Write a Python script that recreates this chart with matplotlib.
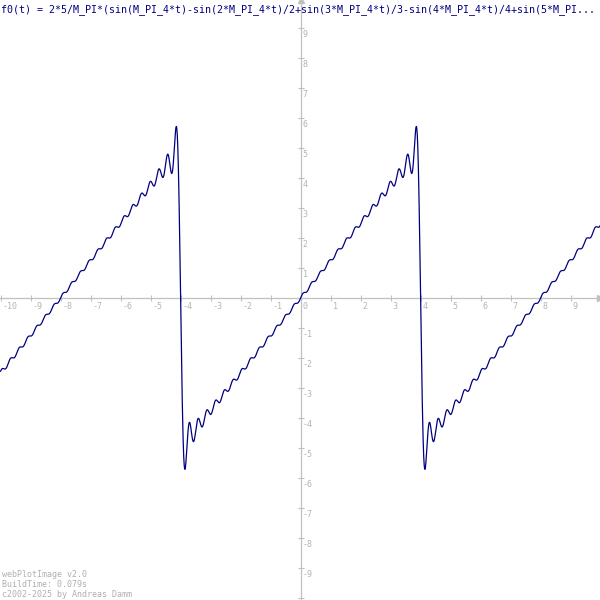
import numpy as np
import matplotlib
matplotlib.use("Agg")
import matplotlib.pyplot as plt

# ---- chart content ----
title = ("f0(t) = 2*5/M_PI*(sin(M_PI_4*t)-sin(2*M_PI_4*t)/2+sin(3*M_PI_4*t)/3"
         "-sin(4*M_PI_4*t)/4+sin(5*M_PI...")
footer_lines = ["webPlotImage v2.0", "BuildTime: 0.079s", "c2002-2025 by Andreas Damm"]

amplitude = 5          # the "5" in 2*5/M_PI
n_terms = 27           # number of harmonics in the partial sum
base_freq = np.pi / 4  # M_PI_4
t_min, t_max = -10, 10

x_tick_values = [-10, -9, -8, -7, -6, -5, -4, -3, -2, -1, 0, 1, 2, 3, 4, 5, 6, 7, 8, 9]
y_tick_values = [-10, -9, -8, -7, -6, -5, -4, -3, -2, -1, 1, 2, 3, 4, 5, 6, 7, 8, 9]
y_tick_labels = ["", "-9", "-8", "-7", "-6", "-5", "-4", "-3", "-2", "-1",
                 "1", "2", "3", "4", "5", "6", "7", "8", "9"]
x_tick_labels = [str(v) for v in x_tick_values]

# ---- function from the title (Fourier partial sum) ----
t = np.linspace(t_min, t_max, 6001)
k = np.arange(1, n_terms + 1)
signs = np.where(k % 2 == 1, 1.0, -1.0)
f0 = 2 * amplitude / np.pi * np.sum(signs[:, None] * np.sin(k[:, None] * base_freq * t[None, :]) / k[:, None], axis=0)

# ---- figure ----
mono = "DejaVu Sans Mono"
axis_gray = "#c0c0c0"
label_gray = "#b4b4b4"
curve_color = "#000080"

fig = plt.figure(figsize=(6, 6), dpi=100)
ax = fig.add_axes([0, 0, 1, 1])
ax.set_xlim(-10.02, 9.98)
ax.set_ylim(-10.07, 9.93)

for side in ["top", "left"]:
    ax.spines[side].set_visible(False)
ax.spines["bottom"].set_position(("data", 0))
ax.spines["right"].set_position(("data", 0))
for side in ["bottom", "right"]:
    ax.spines[side].set_color(axis_gray)
    ax.spines[side].set_linewidth(0.9)
ax.yaxis.tick_right()
ax.xaxis.tick_bottom()

ax.set_xticks(x_tick_values)
ax.set_yticks(y_tick_values)
ax.set_xticklabels([])
ax.set_yticklabels([])
ax.tick_params(direction="inout", length=3.8, width=0.8, color=axis_gray)

# arrow heads at axis ends
ax.plot(1, 0, ">", color=axis_gray, markersize=4, transform=ax.get_yaxis_transform(), clip_on=False, zorder=2.6)
ax.plot(0, 1, "^", color=axis_gray, markersize=4, transform=ax.get_xaxis_transform(), clip_on=False, zorder=2.6)

# tick labels: right of / below tick marks
for v, lab in zip(x_tick_values, x_tick_labels):
    ax.annotate(lab, xy=(v, 0), xytext=(2, -4), textcoords="offset pixels",
                ha="left", va="top", fontsize=6, family=mono, color=label_gray)
for v, lab in zip(y_tick_values, y_tick_labels):
    ax.annotate(lab, xy=(0, v), xytext=(2, -2), textcoords="offset pixels",
                ha="left", va="top", fontsize=6, family=mono, color=label_gray)

ax.plot(t, f0, color=curve_color, linewidth=0.9, zorder=3)

# title and footer
fig.text(1 / 600, 1 - 12.5 / 600, title, ha="left", va="baseline",
         fontsize=7.2, family=mono, color=curve_color)
for i, line in enumerate(footer_lines):
    fig.text(2 / 600, 1 - (577 + 10 * i) / 600, line, ha="left", va="baseline",
             fontsize=6, family=mono, color="#b0b0b0")

fig.savefig("out.png", dpi=100, facecolor="white")
